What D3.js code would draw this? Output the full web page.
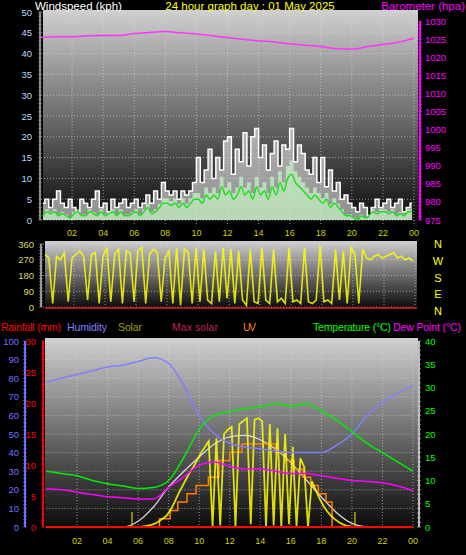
<!DOCTYPE html>
<html><head><meta charset="utf-8">
<script src="https://cdn.jsdelivr.net/npm/d3@7"></script>
<style>body{margin:0;background:#000}svg{display:block;font-family:"Liberation Sans",Arial,sans-serif}</style>
</head><body><svg id="c" width="466" height="555"></svg>
<script>
// hour tick labels
var hourTicks = [2,4,6,8,10,12,14,16,18,20,22,24];
// barometer, hourly 0..24
var baroHourly = [1025.5,1025.7,1025.7,1026,1026.1,1026.1,1026.6,1026.9,1027.2,1026.8,1026.5,1026,1025.5,1025,1024.6,1024.3,1023.8,1023.4,1023,1022.4,1022.3,1023,1023.6,1024.2,1025.3];
// wind gust & average, every 15 min
var windGust = [4,5,3,5,7,4,3,5, 3,2,5,4,3,5,7,3, 4,2,5,3,4,5,3,4, 5,3,4,6,4,7,5,9,
  7,6,7,5,7,6,7,9, 15,9,12,17,10,15,12,19, 20,11,17,14,21,13,20,22, 15,18,12,16,19,13,18,17,
  22,14,18,16,12,11,15,9, 15,8,12,7,9,5,6,4, 3,2,4,3,1,3,5,3, 4,5,3,4,5,2,3,4];
var windAvg = [1,2,1.5,2,1,1.5,1,0.5, 1.5,2,1,1,2,1.5,1,2, 1,1.5,2,1,2,1,1,1.5, 2,1,2,3,1.5,2,3,4,
  4,3.5,4,3,4,3,4,5, 5,4,6,5,6,5,8,6, 7,5,6,8,6,7,5,8, 6,7,5,8,6,9,7,10,
  11,9,8,7,6,5,6,5, 4,5,3,4,3,2,1,1, 0.5,0,1,0.5,1,2,1.5,2, 2,1.5,2,1,1.5,1,2,2];
var windDir = [300,280,20,290,270,310,30,280, 300,320,290,40,300,310,20,290, 340,30,300,330,20,320,310,30,
  320,340,20,300,330,310,30,280, 320,20,340,10,330,310,20,340, 30,330,40,20,320,30,340,50,
  330,20,320,40,10,330,30,20, 340,40,20,330,30,50,20,340, 30,40,20,340,30,20,40,350,
  30,40,20,330,40,320,20,340, 300,20,330,280,270,290,300,280, 290,300,310,280,290,270,280,260];
// bottom panel, hourly 0..24
var humidity = [78,80,82,84,86,87,89,91,88,76,60,50,45,43,42,41,40,40,40,44,50,60,67,72,76];
var temperature = [12,11.5,11,10,9.3,8.8,8.3,8.5,10,15,21,24,24.8,25.5,25.8,26.5,26,26.5,25,23,20.5,18,16,14,12];
var dewPoint = [8.2,8,7.5,7,6.5,6.3,6,6,8.5,10.8,13.3,14,13,12.5,12.5,12,11.5,11.5,11,10.5,10,9.8,9.5,8.8,7.8];
var maxSolar = [0,0,0,0,0,0,40,140,280,390,490,580,630,640,610,545,450,330,210,100,25,0,0,0,0];
// solar, every 15 min
var solar = [0,0,0,0,0,0,0,0, 0,0,0,0,0,0,0,0, 0,0,0,0,0,0,0,0, 0,5,10,15,25,40,60,80,
  120,170,230,280,330,380,420,470, 520,560,600,0,620,10,650,680, 700,0,720,740,760,20,750,760,
  740,0,720,10,690,0,650,20, 560,0,480,420,0,320,260,200, 150,110,80,55,35,20,10,5,
  0,0,0,0,0,0,0,0, 0,0,0,0,0,0,0,0];
// UV steps
var uvTimes = [0,7.4,8.1,8.6,9.2,9.8,10.6,11.3,12,12.8,14.4,15,15.7,16.2,16.8,17.3,17.8,18.3,18.7,24];
var uvValues = [0,1,2,3,4,5,6,8,9,10,10,9,8,7,6,5,4,3,0,0];
var rainfall = [0,0];
var sunEvents = [5.6,20.2];

var svg = d3.select("#c");
var defs = svg.append("defs");
var g = defs.append("linearGradient").attr("id","bg").attr("x1",0).attr("x2",0).attr("y1",0).attr("y2",1);
g.append("stop").attr("offset","0%").attr("stop-color","#d0d0d0");
g.append("stop").attr("offset","100%").attr("stop-color","#080808");

function q(arr){ return arr.map(function(v,i){ return [i*0.25+0.125, v]; }); }
function h(arr){ return arr.map(function(v,i){ return [i, v]; }); }

function panel(x0,y0,x1,y1){
  svg.append("rect").attr("x",x0).attr("y",y0).attr("width",x1-x0).attr("height",y1-y0).attr("fill","url(#bg)");
}
function grid(x, y, ticks, yl){
  svg.append("g").selectAll("line").data(hourTicks).enter().append("line")
    .attr("x1",function(d){return x(d);}).attr("x2",function(d){return x(d);})
    .attr("y1",yl[0]).attr("y2",yl[1]).attr("stroke","#ddd").attr("stroke-dasharray","1,2").attr("opacity",0.6);
  svg.append("g").selectAll("line").data(ticks).enter().append("line")
    .attr("x1",x.range()[0]).attr("x2",x.range()[1])
    .attr("y1",function(d){return y(d);}).attr("y2",function(d){return y(d);})
    .attr("stroke","#ddd").attr("stroke-dasharray","1,2").attr("opacity",0.6);
}
function yAxis(scale, x, ticks, color, anchor, dx, lineColor){
  var ga = svg.append("g");
  ga.append("line").attr("x1",x).attr("x2",x).attr("y1",scale.range()[0]).attr("y2",scale.range()[1]).attr("stroke",lineColor||color).attr("stroke-width",2);
  var minor = d3.range(scale.domain()[0], scale.domain()[1]+0.001, (ticks[1]-ticks[0])/5);
  ga.selectAll(".m").data(minor).enter().append("line")
    .attr("x1",x-2).attr("x2",x+2).attr("y1",function(d){return scale(d);}).attr("y2",function(d){return scale(d);})
    .attr("stroke",lineColor||color).attr("opacity",0.7);
  ga.selectAll("text").data(ticks).enter().append("text")
    .attr("x",x+dx).attr("y",function(d){return scale(d)+3.5;})
    .attr("text-anchor",anchor).attr("fill",color).attr("font-size",9.5).text(function(d){return d;});
}
function hourLabels(x, y, color){
  svg.append("g").selectAll("text").data(hourTicks).enter().append("text")
    .attr("x",function(d){return x(d);}).attr("y",y).attr("text-anchor","middle")
    .attr("fill",color).attr("font-size",9).text(function(d){return d3.format("02")(d%24);});
}
function txt(x,y,s,c,a){ svg.append("text").attr("x",x).attr("y",y).attr("fill",c).attr("font-size",11.5).attr("text-anchor",a||"start").text(s); }

// ---- top panel: wind + barometer
var xT = d3.scaleLinear().domain([0,24]).range([41,414]);
var yW = d3.scaleLinear().domain([0,50]).range([220,12]);
var yB = d3.scaleLinear().domain([975,1030]).range([220,21.3]);
panel(43,10,418,224);
grid(xT, yW, d3.range(0,51,5), [10,224]);
var step = d3.area().curve(d3.curveStep).x(function(d){return xT(d[0]);}).y0(yW(0)).y1(function(d){return yW(d[1]);});
svg.append("path").datum(q(windGust)).attr("d",step).attr("fill","#e8e8e8").attr("opacity",0.6);
svg.append("path").datum(q(windGust)).attr("d",d3.line().curve(d3.curveStep).x(function(d){return xT(d[0]);}).y(function(d){return yW(d[1]);}))
  .attr("fill","none").attr("stroke","#ffffff").attr("stroke-width",1.5);
var stepA = d3.area().curve(d3.curveStep).x(function(d){return xT(d[0]);}).y0(yW(0)).y1(function(d){return yW(d[1]*1.3);});
svg.append("path").datum(q(windAvg)).attr("d",stepA).attr("fill","#c8f5c8").attr("opacity",0.7);
svg.append("path").datum(q(windAvg)).attr("d",d3.line().curve(d3.curveMonotoneX).x(function(d){return xT(d[0]);}).y(function(d){return yW(d[1]);}))
  .attr("fill","none").attr("stroke","#22dd22").attr("stroke-width",1.5);
svg.append("path").datum(h(baroHourly)).attr("d",d3.line().curve(d3.curveMonotoneX).x(function(d){return xT(d[0]);}).y(function(d){return yB(d[1]);}))
  .attr("fill","none").attr("stroke","#ff33ff").attr("stroke-width",1.5);
yAxis(yW, 40, d3.range(0,51,5), "#bcd8ff", "end", -8, "#888");
yAxis(yB, 420, d3.range(975,1031,5), "#ff00ff", "start", 5);
hourLabels(xT, 236, "#d0d000");
txt(35,10,"Windspeed (kph)","#fff");
txt(250,10,"24 hour graph day : 01 May 2025","#ffff00","middle");
txt(465,10,"Barometer (hpa)","#ff00ff","end");

// ---- middle panel: wind direction
var xM = d3.scaleLinear().domain([0,24]).range([43,415]);
var yD = d3.scaleLinear().domain([0,360]).range([307,244]);
panel(45,241,417,309);
grid(xM, yD, [0,90,180,270,360], [241,309]);
svg.append("path").datum(q(windDir)).attr("d",d3.line().x(function(d){return xM(d[0]);}).y(function(d){return yD(d[1]);}))
  .attr("fill","none").attr("stroke","#ffff00").attr("stroke-width",1.6).attr("opacity",0.85);
svg.append("line").attr("x1",45).attr("x2",417).attr("y1",yD(0)+1).attr("y2",yD(0)+1).attr("stroke","#e02020").attr("stroke-width",1.5);
yAxis(yD, 41, [0,90,180,270,360], "#d8d860", "end", -7, "#999");
svg.append("g").selectAll("text").data(["N","W","S","E","N"]).enter().append("text")
  .attr("x",438).attr("y",function(d,i){return 248+i*16.8;}).attr("fill","#ffff00").attr("font-size",11).attr("text-anchor","middle").text(function(d){return d;});

// ---- legend
[["Rainfall (mm)",1,"#ff0000",60],["Humidity",67,"#8080ff",40],["Solar",118,"#a0a000",24],["Max solar",172,"#c02060",46],["UV",243,"#ff8000",13],["Temperature (°C)",313,"#00ff00",78],["Dew Point (°C)",393,"#ff00ff",68]]
  .forEach(function(d){ svg.append("text").attr("x",d[1]).attr("y",331).attr("fill",d[2]).attr("font-size",10.5).attr("textLength",d[3]).text(d[0]); });

// ---- bottom panel
var xB = d3.scaleLinear().domain([0,24]).range([46.5,413]);
var yH = d3.scaleLinear().domain([0,100]).range([527,341]);
var yR = d3.scaleLinear().domain([0,30]).range([527,341]);
var yTm = d3.scaleLinear().domain([0,40]).range([527,341]);
var yS = d3.scaleLinear().domain([0,1300]).range([527,341]);
var yU = d3.scaleLinear().domain([0,22.4]).range([527,341]);
panel(45,338,418,530);
grid(xB, yH, d3.range(0,101,10), [338,530]);
var lineH = function(y){ return d3.line().curve(d3.curveMonotoneX).x(function(d){return xB(d[0]);}).y(function(d){return y(d[1]);}); };
svg.append("path").datum(h(maxSolar)).attr("d",lineH(yS)).attr("fill","none").attr("stroke","#d8d8d8").attr("stroke-width",1.3);
svg.append("path").datum(uvTimes.map(function(t,i){return [t,uvValues[i]];}))
  .attr("d",d3.line().curve(d3.curveStepAfter).x(function(d){return xB(d[0]);}).y(function(d){return yU(d[1]);}))
  .attr("fill","none").attr("stroke","#ff8000").attr("stroke-width",1.5);
svg.append("path").datum(q(solar)).attr("d",d3.line().x(function(d){return xB(d[0]);}).y(function(d){return yS(d[1]);}))
  .attr("fill","none").attr("stroke","#ffff00").attr("stroke-width",1.8).attr("opacity",0.85);
svg.selectAll(".sun").data(sunEvents).enter().append("line")
  .attr("x1",function(d){return xB(d);}).attr("x2",function(d){return xB(d);}).attr("y1",527).attr("y2",512)
  .attr("stroke","#d0d000").attr("stroke-width",1.2);
svg.append("path").datum(h(humidity)).attr("d",lineH(yH)).attr("fill","none").attr("stroke","#8080ff").attr("stroke-width",1.5);
svg.append("path").datum(h(temperature)).attr("d",lineH(yTm)).attr("fill","none").attr("stroke","#00ee00").attr("stroke-width",1.5);
svg.append("path").datum(h(dewPoint)).attr("d",lineH(yTm)).attr("fill","none").attr("stroke","#ff00ff").attr("stroke-width",1.5);
svg.append("path").datum(rainfall.map(function(v,i){return [i*24,v];})).attr("d",lineH(yR)).attr("fill","none").attr("stroke","#ff0000").attr("stroke-width",2);
yAxis(yH, 25, d3.range(0,101,10), "#7070ff", "end", -6);
yAxis(yR, 43, d3.range(0,31,5), "#ff0000", "end", -7);
yAxis(yTm, 419, d3.range(0,41,5), "#00ff00", "start", 6, "#bbb");
hourLabels(xB, 544, "#d0d000");
</script></body></html>
